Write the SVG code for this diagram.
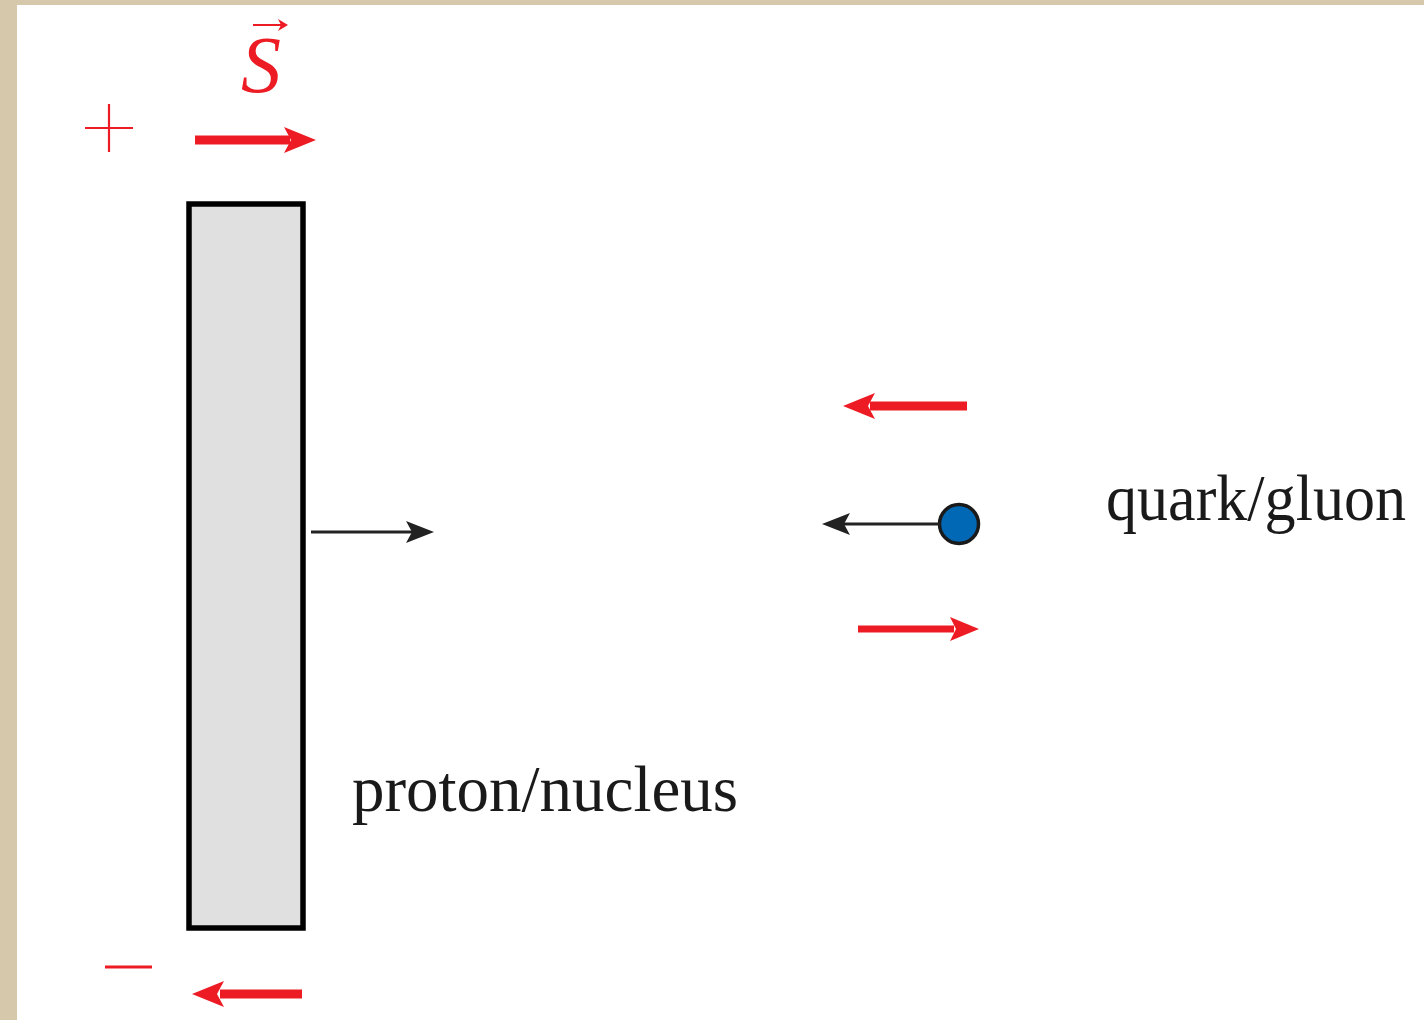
<svg xmlns="http://www.w3.org/2000/svg" width="1424" height="1020" viewBox="0 0 1424 1020">
<style>
.red{fill:#ed1c24}
.blk{fill:#222}
.lbl{font-family:"Liberation Serif","DejaVu Serif",serif;font-size:66px;fill:#1a1a1a}
.shaft{stroke:#222;stroke-width:3;fill:none}
</style>
<rect x="0" y="0" width="1424" height="1020" fill="#d6c8aa"/>
<rect x="17" y="5" width="1407" height="1015" fill="#ffffff"/>
<g id="nucleus">
<rect x="189" y="204" width="114" height="724" fill="#e0e0e0" stroke="#000" stroke-width="5.5"/>
</g>
<g id="spin-label">
<text x="261" y="92" text-anchor="middle" font-family="Liberation Serif, serif" font-style="italic" font-size="80" fill="#ed1c24">S</text>
<line x1="253" y1="25" x2="282" y2="25" stroke="#ed1c24" stroke-width="2"/>
<path d="M288,25 L278,19 L281,25 L278,31 Z" class="red"/>
</g>
<g id="plus">
<line x1="85" y1="128" x2="133" y2="128" stroke="#ed1c24" stroke-width="2.2"/>
<line x1="109" y1="104" x2="109" y2="152" stroke="#ed1c24" stroke-width="2.2"/>
</g>
<g id="minus">
<line x1="105" y1="967" x2="152" y2="967" stroke="#ed1c24" stroke-width="3"/>
</g>
<g id="quark">
<circle cx="959" cy="524" r="19.5" fill="#0068b5" stroke="#1a1a1a" stroke-width="3.5"/>
</g>
<g id="label-proton"><text class="lbl" x="352" y="811" textLength="386" lengthAdjust="spacingAndGlyphs">proton/nucleus</text></g>
<g id="label-quark"><text class="lbl" x="1106" y="520" font-size="64" textLength="300" lengthAdjust="spacingAndGlyphs">quark/gluon</text></g>
<g id="connectors">
<rect x="195" y="135.5" width="95" height="9" class="red"/>
<path d="M316,140 L284,127 L291,140 L284,153 Z" class="red"/>
<rect x="220" y="989.5" width="82" height="9" class="red"/>
<path d="M192,994 L224,981 L217,994 L224,1007 Z" class="red"/>
<rect x="870" y="401.5" width="97" height="9" class="red"/>
<path d="M843,406 L875,393 L868,406 L875,419 Z" class="red"/>
<rect x="858" y="625.5" width="96" height="7" class="red"/>
<path d="M979,629 L950,617 L956,629 L950,641 Z" class="red"/>
<line x1="311" y1="532" x2="412" y2="532" class="shaft"/>
<path d="M434,532 L406,521 L412,532 L406,543 Z" class="blk"/>
<line x1="940" y1="524" x2="843" y2="524" class="shaft"/>
<path d="M822,524 L850,513 L844,524 L850,535 Z" class="blk"/>
</g>
</svg>
